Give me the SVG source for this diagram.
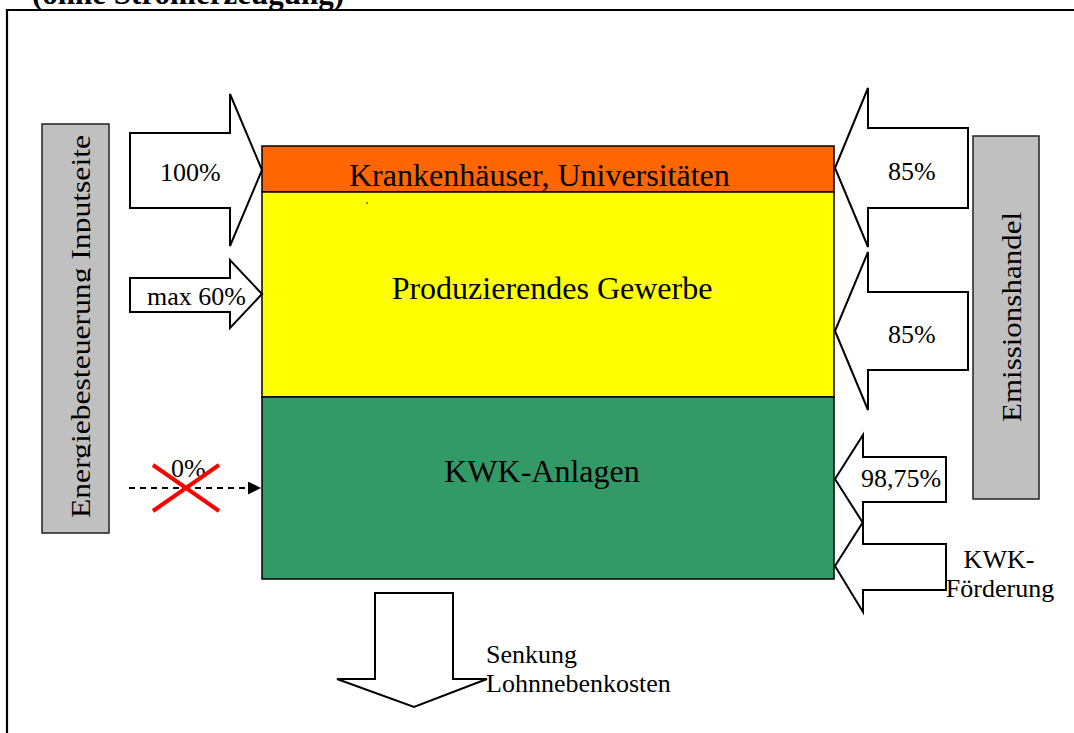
<svg xmlns="http://www.w3.org/2000/svg" width="1074" height="733" viewBox="0 0 1074 733">
<defs>
<style>
.t{font-family:"Liberation Serif","Times New Roman",serif;fill:#000}
.lbl{font-size:32px}
.sm{font-size:26px}
.arr{fill:#fff;stroke:#000;stroke-width:2;stroke-linejoin:miter}
.box{stroke:#000;stroke-width:1.5}
.side{fill:#c0c0c0;stroke:#222;stroke-width:1.5}
</style>
<marker id="ah" viewBox="0 0 10 10" refX="10" refY="5" markerWidth="7.5" markerHeight="6.5" markerUnits="strokeWidth" orient="auto">
<path d="M0,0 L10,5 L0,10 Z" fill="#000"/>
</marker>
<clipPath id="clipL" clipPathUnits="userSpaceOnUse"><rect x="40" y="120" width="50.5" height="420"/></clipPath>
</defs>
<rect width="1074" height="733" fill="#fff"/>
<text class="t" x="32" y="3.5" font-size="31" font-weight="bold">(ohne Stromerzeugung)</text>
<path d="M7,734 V10 H1075" fill="none" stroke="#000" stroke-width="2.2"/>

<g id="side-left">
<rect class="side" x="42" y="124" width="67" height="409"/>
<g clip-path="url(#clipL)">
<text class="t" font-size="27" text-anchor="middle" textLength="383" lengthAdjust="spacingAndGlyphs" transform="translate(90,326.5) rotate(-90)">Energiebesteuerung Inputseite</text>
</g>
</g>
<g id="side-right">
<rect class="side" x="973" y="136" width="66" height="363"/>
<text class="t" font-size="28" text-anchor="middle" textLength="210" lengthAdjust="spacingAndGlyphs" transform="translate(1021,317) rotate(-90)">Emissionshandel</text>
</g>

<g id="kranken">
<rect class="box" x="262" y="146" width="572" height="46" fill="#ff6600"/>
<text class="t lbl" x="349" y="186">Krankenhäuser, Universitäten</text>
</g>
<g id="produzierend">
<rect class="box" x="262" y="192" width="572" height="205" fill="#ffff00"/>
<text class="t lbl" x="552" y="299" text-anchor="middle">Produzierendes Gewerbe</text>
<circle cx="367" cy="203" r="0.8" fill="#000"/>
</g>
<g id="kwk">
<rect class="box" x="262" y="397" width="572" height="182" fill="#339966"/>
<text class="t lbl" x="542" y="482" text-anchor="middle">KWK-Anlagen</text>
</g>

<g id="arrow-100">
<path class="arr" d="M130,133 H230 V94 L262,170 L230,246 V208 H130 Z"/>
<text class="t sm" x="160" y="181">100%</text>
</g>
<g id="arrow-60">
<path class="arr" d="M130,278 H230 V260 L262,294 L230,328 V312 H130 Z"/>
<text class="t sm" x="147" y="305">max 60%</text>
</g>
<g id="arrow-85a">
<path class="arr" d="M835,168 L868,88 V128 H968 V208 H868 V247 Z"/>
<text class="t sm" x="888" y="180">85%</text>
</g>
<g id="arrow-85b">
<path class="arr" d="M835,331 L868,252 V292 H968 V370 H868 V410 Z"/>
<text class="t sm" x="888" y="343">85%</text>
</g>
<g id="arrow-9875">
<path class="arr" d="M835,479 L863,435 V457 H946 V502 H863 V523 Z"/>
<text class="t sm" x="861" y="487">98,75%</text>
</g>
<g id="arrow-kwkf">
<path class="arr" d="M835,566 L863,522 V544 H946 V590 H863 V612 Z"/>
<text class="t sm" x="999" y="568" text-anchor="middle">KWK-</text>
<text class="t sm" x="1000" y="597" text-anchor="middle">Förderung</text>
</g>
<g id="arrow-senkung">
<path class="arr" d="M375,593 H453 V679 H487 L414,707 L337,679 H375 Z"/>
<text class="t sm" x="486" y="663">Senkung</text>
<text class="t sm" x="486" y="692">Lohnnebenkosten</text>
</g>

<g id="connectors">
<text class="t sm" x="171" y="477">0%</text>
<line x1="129" y1="488" x2="261" y2="488" stroke="#000" stroke-width="2" stroke-dasharray="6,5" marker-end="url(#ah)"/>
<line x1="153" y1="465" x2="219" y2="511" stroke="#ff0000" stroke-width="4"/>
<line x1="153" y1="511" x2="219" y2="465" stroke="#ff0000" stroke-width="4"/>
</g>
</svg>
